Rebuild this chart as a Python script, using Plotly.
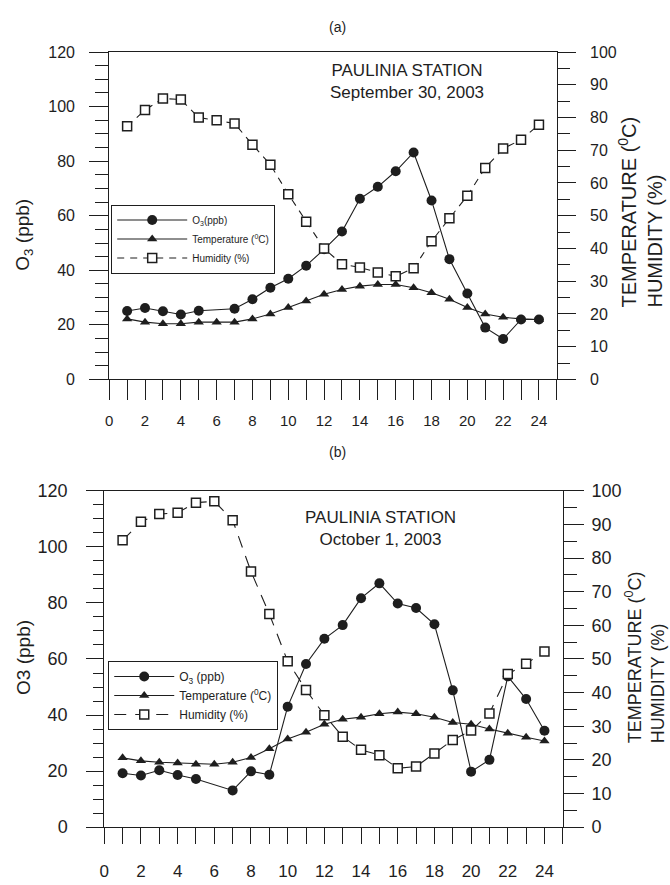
import plotly.graph_objects as go

# ---------------- data ----------------
hours = list(range(1, 25))

# (a) September 30, 2003
o3_a = [25.1, 26.2, 25.0, 23.8, 25.2, None, 25.9, 29.4, 33.6, 36.9, 41.7, 47.7,
        54.2, 66.2, 70.6, 76.3, 83.2, 65.6, 44.1, 31.5, 19.0, 14.8, 22.0, 22.0]
temp_a = [18.5, 17.5, 17.0, 17.0, 17.5, 17.5, 17.5, 18.5, 20.0, 22.0, 24.0, 26.0,
          27.5, 28.5, 29.0, 29.0, 28.0, 26.5, 24.5, 22.0, 20.0, 19.0, 18.5, 18.3]
hum_a = [77.3, 82.3, 85.8, 85.5, 80.0, 79.2, 78.2, 71.7, 65.6, 56.6, 48.2, 40.0,
         35.2, 34.2, 32.7, 31.5, 34.0, 42.2, 49.2, 56.1, 64.6, 70.5, 73.2, 77.8]

# (b) October 1, 2003
o3_b = [19.2, 18.4, 20.3, 18.6, 17.2, None, 13.1, 19.9, 18.7, 43.0, 58.2, 67.2,
        72.1, 81.7, 87.0, 79.8, 78.2, 72.4, 48.8, 19.8, 24.0, 53.8, 45.7, 34.4]
temp_b = [20.6, 19.7, 19.3, 19.1, 18.7, 18.7, 19.3, 20.7, 23.3, 26.2, 28.2, 30.6,
          32.1, 32.7, 33.7, 34.2, 33.7, 32.7, 31.1, 30.6, 29.2, 27.9, 26.7, 25.6]
hum_b = [85.3, 90.8, 93.1, 93.5, 96.5, 96.9, 91.3, 76.0, 63.4, 49.3, 40.8, 33.3,
         26.9, 23.0, 21.4, 17.5, 18.0, 21.9, 25.9, 28.7, 33.8, 45.5, 48.6, 52.2]

x_labels = list(range(0, 25, 2))

names = ["O<sub>3</sub>(ppb)", "Temperature (<sup>0</sup>C)", "Humidity (%)"]
names_b = ["O<sub>3</sub> (ppb)", "Temperature (<sup>0</sup>C)", "Humidity (%)"]

INK = "#1e1e1e"
FONT_A = "Liberation Sans, Arial, sans-serif"
FONT_B = "Liberation Sans Narrow, Arial Narrow, Liberation Sans, sans-serif"

W, H = 670, 885

fig = go.Figure()

# ---------- panel (a) ----------
fig.add_trace(go.Scatter(x=hours, y=o3_a, name=names[0], mode="lines+markers",
                         connectgaps=True, line=dict(color=INK, width=1.1),
                         marker=dict(symbol="circle", size=10, color=INK),
                         xaxis="x", yaxis="y", legend="legend"))
fig.add_trace(go.Scatter(x=hours, y=temp_a, name=names[1], mode="lines+markers",
                         line=dict(color=INK, width=1.1),
                         marker=dict(symbol="triangle-up", size=9, color=INK),
                         xaxis="x", yaxis="y2", legend="legend"))
fig.add_trace(go.Scatter(x=hours, y=hum_a, name=names[2], mode="lines+markers",
                         line=dict(color=INK, width=1.1, dash="7px,6px"),
                         marker=dict(symbol="square", size=9, color="white",
                                     line=dict(color=INK, width=1.5)),
                         xaxis="x", yaxis="y2", legend="legend"))

# ---------- panel (b) ----------
fig.add_trace(go.Scatter(x=hours, y=o3_b, name=names_b[0], mode="lines+markers",
                         connectgaps=True, line=dict(color=INK, width=1.1),
                         marker=dict(symbol="circle", size=10, color=INK),
                         xaxis="x2", yaxis="y3", legend="legend2"))
fig.add_trace(go.Scatter(x=hours, y=temp_b, name=names_b[1], mode="lines+markers",
                         line=dict(color=INK, width=1.1),
                         marker=dict(symbol="triangle-up", size=9, color=INK),
                         xaxis="x2", yaxis="y4", legend="legend2"))
fig.add_trace(go.Scatter(x=hours, y=hum_b, name=names_b[2], mode="lines+markers",
                         line=dict(color=INK, width=1.1, dash="12px,9px"),
                         marker=dict(symbol="square", size=9, color="white",
                                     line=dict(color=INK, width=1.5)),
                         xaxis="x2", yaxis="y4", legend="legend2"))


def px_x(p):
    return p / W


def px_y(p):
    return 1 - p / H


def xaxis_cfg(domain, anchor, ticklen, fontfam, fsize, standoff):
    return dict(domain=domain, anchor=anchor, range=[0, 25], tickmode="array",
                tickvals=x_labels, ticktext=[str(v) for v in x_labels],
                ticks="outside", ticklen=ticklen, tickwidth=1, tickcolor=INK,
                minor=dict(dtick=1, tick0=0, ticks="outside", ticklen=ticklen,
                           tickwidth=1, tickcolor=INK, showgrid=False),
                showline=True, linecolor=INK, linewidth=1, mirror=True,
                showgrid=False, zeroline=False,
                tickfont=dict(family=fontfam, size=fsize, color=INK),
                ticklabelstandoff=standoff, fixedrange=True)


def yaxis_cfg(domain, anchor, rng, dtick, mdtick, ticklen, mlen, fontfam, fsize,
              side="left", overlaying=None, standoff=6):
    d = dict(anchor=anchor, range=rng, dtick=dtick, tick0=0, ticks="outside",
             ticklen=ticklen, tickwidth=1, tickcolor=INK, showline=True,
             linecolor=INK, linewidth=1, showgrid=False, zeroline=False,
             side=side,
             minor=dict(dtick=mdtick, tick0=0, ticks="outside", ticklen=mlen,
                        tickwidth=1, tickcolor=INK, showgrid=False),
             tickfont=dict(family=fontfam, size=fsize, color=INK),
             ticklabelstandoff=standoff, fixedrange=True)
    if overlaying:
        d["overlaying"] = overlaying
    else:
        d["domain"] = domain
    return d


top_y = [px_y(378), px_y(43)]
bot_y = [px_y(836), px_y(492)]

fig.update_layout(
    width=W, height=H,
    margin=dict(l=0, r=0, t=0, b=0),
    paper_bgcolor="white", plot_bgcolor="white",
    font=dict(family=FONT_A, color=INK),
    xaxis=xaxis_cfg([px_x(105), px_x(556)], "y", 20, FONT_A, 15, 8),
    yaxis=yaxis_cfg(top_y, "x", [0, 120], 20, 5, 19, 13, FONT_A, 16, standoff=11),
    yaxis2=yaxis_cfg(None, "x", [0, 100], 10, 5, 18, 12, FONT_A, 16,
                     side="right", overlaying="y", standoff=11),
    xaxis2=xaxis_cfg([px_x(100), px_x(562)], "y3", 16, FONT_B, 17, 12),
    yaxis3=yaxis_cfg(bot_y, "x2", [0, 120], 20, 5, 17, 10, FONT_B, 18, standoff=15),
    yaxis4=yaxis_cfg(None, "x2", [0, 100], 10, 5, 20, 13, FONT_B, 18,
                     side="right", overlaying="y3", standoff=4),
    legend=dict(x=px_x(107), y=px_y(199), xanchor="left", yanchor="top",
                bgcolor="white", bordercolor=INK, borderwidth=1,
                font=dict(family=FONT_A, size=10, color=INK),
                itemwidth=70, tracegroupgap=0),
    legend2=dict(x=px_x(104), y=px_y(666), xanchor="left", yanchor="top",
                 bgcolor="white", bordercolor=INK, borderwidth=1,
                 font=dict(family=FONT_B, size=12, color=INK),
                 itemwidth=60, tracegroupgap=0),
    showlegend=True,
)


def note(text, x, y, size, family=FONT_A, angle=0, align="center"):
    return dict(text=text, x=px_x(x), y=px_y(y), xref="paper", yref="paper",
                xanchor="center", yanchor="middle", showarrow=False,
                textangle=angle, align=align,
                font=dict(family=family, size=size, color=INK))


ann = [
    note("(a)", 335, 17, 14),
    note("(b)", 335, 452, 14),
    note("PAULINIA STATION<br>September 30, 2003", 405, 73, 17),
    note("PAULINIA STATION<br>October 1, 2003", 378, 530, 17, family=FONT_B),
    note("O<sub>3</sub> (ppb)", 19, 230, 19, angle=-90),
    note("O3 (ppb)", 18, 662, 19, family=FONT_B, angle=-90),
    note("TEMPERATURE (<sup>0</sup>C)<br>HUMIDITY (%)", 640, 207, 20,
         angle=-90, align="left"),
    note("TEMPERATURE (<sup>0</sup>C)<br>HUMIDITY (%)", 645, 662, 18,
         family=FONT_B, angle=-90, align="left"),
]
fig.update_layout(annotations=ann)

fig.write_html("out.html")
